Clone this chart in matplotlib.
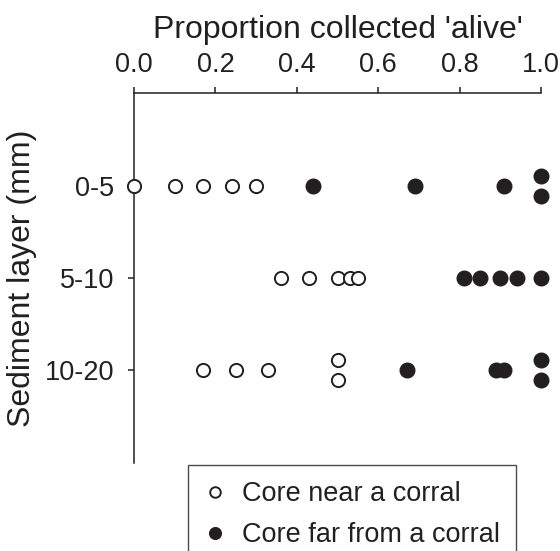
import matplotlib
matplotlib.use("Agg")
import matplotlib.pyplot as plt

# ---- Data ----
layers = ["0-5", "5-10", "10-20"]
layer_pos = [1, 2, 3]

# proportion collected 'alive', per core; layer index and small vertical
# offset for points that sit on top of each other
near_x = [0.0, 0.10, 0.17, 0.24, 0.30,
          0.36, 0.43, 0.50, 0.53, 0.55,
          0.17, 0.25, 0.33, 0.50, 0.50]
near_layer = [1, 1, 1, 1, 1,
              2, 2, 2, 2, 2,
              3, 3, 3, 3, 3]
near_dy = [0, 0, 0, 0, 0,
           0, 0, 0, 0, 0,
           0, 0, 0, -0.11, 0.11]

far_x = [0.44, 0.69, 0.91, 1.0, 1.0,
         0.81, 0.85, 0.90, 0.94, 1.0,
         0.67, 0.89, 0.91, 1.0, 1.0]
far_layer = [1, 1, 1, 1, 1,
             2, 2, 2, 2, 2,
             3, 3, 3, 3, 3]
far_dy = [0, 0, 0, -0.11, 0.11,
          0, 0, 0, 0, 0,
          0, 0, 0, -0.11, 0.11]

xticks = [0.0, 0.2, 0.4, 0.6, 0.8, 1.0]

INK = "#231f20"
plt.rcParams["font.family"] = ["Liberation Sans", "DejaVu Sans"]
plt.rcParams["text.color"] = INK

fig = plt.figure(figsize=(5.6, 5.51), dpi=100)
ax = fig.add_axes([134 / 560, 1 - 463 / 551, (541 - 134) / 560, (463 - 93) / 551])

ny = [l + d for l, d in zip(near_layer, near_dy)]
fy = [l + d for l, d in zip(far_layer, far_dy)]
ax.plot(near_x, ny, "o", ls="none", ms=9.5, mfc="white", mec=INK, mew=1.4,
        clip_on=False, zorder=3, label="Core near a corral")
ax.plot(far_x, fy, "o", ls="none", ms=10.5, mfc=INK, mec=INK, mew=1.0,
        clip_on=False, zorder=3, label="Core far from a corral")

ax.set_xlim(0, 1)
ax.set_ylim(4.02, -0.02)

ax.spines["right"].set_visible(False)
ax.spines["bottom"].set_visible(False)
for s in ("left", "top"):
    ax.spines[s].set_linewidth(1.1)
    ax.spines[s].set_color(INK)

ax.xaxis.tick_top()
ax.xaxis.set_label_position("top")
ax.set_xticks(xticks)
ax.set_xticklabels([f"{v:.1f}" for v in xticks])
ax.set_yticks(layer_pos)
ax.set_yticklabels(layers)
ax.tick_params(axis="both", direction="out", length=4, width=1.1, color=INK,
               labelsize=19.5, labelcolor=INK)
ax.tick_params(axis="x", pad=7)
ax.tick_params(axis="y", pad=10)

ax.set_xlabel("Proportion collected 'alive'", fontsize=23, labelpad=10, color=INK)
ax.set_ylabel("Sediment layer (mm)", fontsize=23, labelpad=6, color=INK)

leg = fig.legend(loc="upper left", bbox_to_anchor=(188 / 560, 1 - 465 / 551),
                 fontsize=19.5, frameon=True, fancybox=False, markerscale=0.8,
                 borderpad=0.6, labelspacing=0.55, handlelength=0.8,
                 handletextpad=0.6, borderaxespad=0)
leg.get_frame().set_edgecolor(INK)
leg.get_frame().set_linewidth(1.0)

fig.savefig("out.png", dpi=100)
